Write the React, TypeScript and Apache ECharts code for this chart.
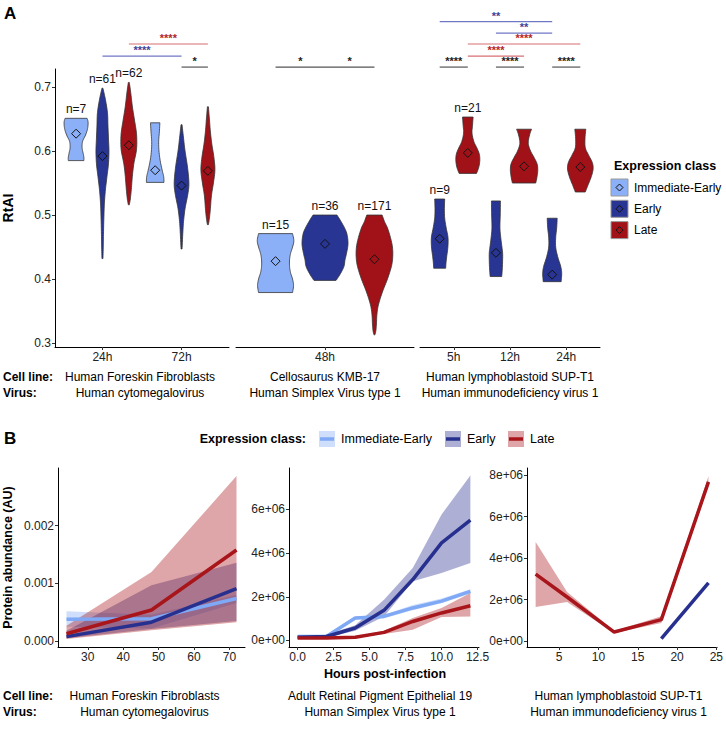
import React, { useEffect, useRef } from 'react';
import * as echarts from 'echarts';

const FONT = '"Liberation Sans", Arial, Helvetica, sans-serif';

// ---------- shared ----------
const CLASS_NAMES = ['Immediate-Early', 'Early', 'Late'];
const VIOLIN_COLORS = ['#8cb0f7', '#283593', '#a01218'];
const LINE_COLORS = ['#7fa8f5', '#27308f', '#a8151b'];
const RIBBON_COLORS = ['rgba(127,168,245,0.38)', 'rgba(39,48,143,0.38)', 'rgba(168,21,27,0.38)'];
const SIG_LINE_COLORS: Record<string, string> = { early: '#7077c6', late: '#d86f73', within: '#555555' };
const SIG_TEXT_COLORS: Record<string, string> = { early: '#3a449c', late: '#b3262b', within: '#222222' };

// ---------- Panel A data ----------
const A_Y_TICKS = [0.3, 0.4, 0.5, 0.6, 0.7];
const A_TIMES_HFF = ['24h', '72h'];
const A_TIMES_KMB = ['48h'];
const A_TIMES_SUPT1 = ['5h', '12h', '24h'];
const A_CELL_LINES = ['Human Foreskin Fibroblasts', 'Cellosaurus KMB-17', 'Human lymphoblastoid SUP-T1'];
const A_VIRUSES = ['Human cytomegalovirus', 'Human Simplex Virus type 1', 'Human immunodeficiency virus 1'];

// profile: [RtAI value, relative density (half width)]
const VIOLINS_HFF = [
  { time: '24h', cls: 0, n: 7, mean: 0.627, profile: [[0.651, 11], [0.645, 12], [0.635, 11.5], [0.625, 9.5], [0.615, 6.5], [0.605, 6], [0.597, 7], [0.59, 7.8], [0.585, 7.8]] },
  { time: '24h', cls: 1, n: 61, mean: 0.592, profile: [[0.698, 0.5], [0.68, 3], [0.66, 5], [0.64, 5.5], [0.62, 6], [0.6, 6.5], [0.58, 6], [0.56, 4.5], [0.54, 3], [0.52, 2], [0.5, 1.5], [0.47, 1], [0.45, 0.8], [0.432, 0.5]] },
  { time: '24h', cls: 2, n: 62, mean: 0.609, profile: [[0.707, 0.5], [0.69, 2], [0.67, 3.5], [0.65, 5.5], [0.63, 7.5], [0.615, 8], [0.6, 7.5], [0.58, 5], [0.56, 3.5], [0.54, 2.5], [0.525, 1.5], [0.516, 0.5]] },
  { time: '72h', cls: 0, n: 0, mean: 0.57, profile: [[0.644, 4.7], [0.63, 4.2], [0.615, 3.5], [0.6, 3.8], [0.585, 5], [0.57, 7], [0.56, 8.5], [0.551, 8.8]] },
  { time: '72h', cls: 1, n: 0, mean: 0.546, profile: [[0.641, 0.5], [0.62, 2], [0.6, 3.5], [0.58, 5.5], [0.56, 7], [0.545, 7.3], [0.53, 6], [0.51, 3.5], [0.49, 2], [0.47, 1.2], [0.447, 0.5]] },
  { time: '72h', cls: 2, n: 0, mean: 0.569, profile: [[0.669, 0.5], [0.65, 1.5], [0.63, 2.5], [0.61, 4], [0.59, 6], [0.57, 7], [0.55, 5.5], [0.53, 3.5], [0.51, 2.5], [0.495, 1.5], [0.485, 0.5]] },
];
const VIOLINS_KMB = [
  { time: '48h', cls: 0, n: 15, mean: 0.428, profile: [[0.471, 17], [0.46, 18.3], [0.45, 17], [0.44, 15], [0.43, 14], [0.42, 14], [0.41, 15], [0.4, 17], [0.39, 18], [0.379, 17]] },
  { time: '48h', cls: 1, n: 36, mean: 0.455, profile: [[0.5, 12], [0.49, 16], [0.48, 19.5], [0.47, 22], [0.455, 23], [0.44, 21.5], [0.43, 20], [0.42, 19], [0.41, 16], [0.4, 12], [0.398, 11]] },
  { time: '48h', cls: 2, n: 171, mean: 0.431, profile: [[0.5, 7.7], [0.49, 10], [0.48, 13], [0.465, 16], [0.45, 18], [0.435, 18.3], [0.42, 17], [0.4, 13], [0.38, 8], [0.36, 4], [0.345, 2.5], [0.33, 2], [0.32, 1.5], [0.313, 0.5]] },
];
const VIOLINS_SUPT1 = [
  { time: '5h', cls: 1, n: 9, mean: 0.463, profile: [[0.525, 5], [0.51, 4.7], [0.495, 5], [0.48, 6.5], [0.465, 8.3], [0.45, 8.2], [0.435, 7], [0.425, 6.3], [0.417, 6]] },
  { time: '5h', cls: 2, n: 21, mean: 0.597, profile: [[0.653, 5.3], [0.64, 4.7], [0.628, 4.2], [0.615, 6], [0.605, 9], [0.595, 11.5], [0.585, 12], [0.575, 11], [0.568, 9.5], [0.565, 8.7]] },
  { time: '12h', cls: 1, n: 0, mean: 0.441, profile: [[0.522, 4.5], [0.5, 4.3], [0.48, 4], [0.465, 4.8], [0.45, 6], [0.44, 6.7], [0.425, 6.6], [0.412, 6.2], [0.404, 5.8]] },
  { time: '12h', cls: 2, n: 0, mean: 0.576, profile: [[0.634, 7.5], [0.625, 5.5], [0.612, 4.2], [0.6, 6.5], [0.59, 10], [0.58, 13], [0.57, 13.7], [0.56, 13], [0.55, 11.7]] },
  { time: '24h', cls: 1, n: 0, mean: 0.407, profile: [[0.495, 5], [0.48, 4.5], [0.465, 3.5], [0.45, 3.5], [0.435, 5.5], [0.42, 8.5], [0.41, 9.5], [0.4, 9.2], [0.396, 9]] },
  { time: '24h', cls: 2, n: 0, mean: 0.575, profile: [[0.634, 5.5], [0.62, 4.7], [0.605, 5], [0.593, 8.5], [0.582, 12], [0.572, 12.8], [0.56, 11], [0.548, 8], [0.54, 6], [0.536, 5]] },
];

const SIG_HFF = [
  { a: ['24h', 2], b: ['72h', 2], level: 0.767, label: '****', kind: 'late' },
  { a: ['24h', 1], b: ['72h', 1], level: 0.748, label: '****', kind: 'early' },
  { a: ['72h', 1], b: ['72h', 2], level: 0.731, label: '*', kind: 'within' },
];
const SIG_KMB = [
  { a: ['48h', 0], b: ['48h', 1], level: 0.731, label: '*', kind: 'within' },
  { a: ['48h', 1], b: ['48h', 2], level: 0.731, label: '*', kind: 'within' },
];
const SIG_SUPT1 = [
  { a: ['5h', 1], b: ['24h', 1], level: 0.802, label: '**', kind: 'early' },
  { a: ['12h', 1], b: ['24h', 1], level: 0.784, label: '**', kind: 'early' },
  { a: ['5h', 2], b: ['24h', 2], level: 0.767, label: '****', kind: 'late' },
  { a: ['5h', 2], b: ['12h', 2], level: 0.748, label: '****', kind: 'late' },
  { a: ['5h', 1], b: ['5h', 2], level: 0.731, label: '****', kind: 'within' },
  { a: ['12h', 1], b: ['12h', 2], level: 0.731, label: '****', kind: 'within' },
  { a: ['24h', 1], b: ['24h', 2], level: 0.731, label: '****', kind: 'within' },
];

// ---------- Panel B data ----------
const B_CELL_LINES = ['Human Foreskin Fibroblasts', 'Adult Retinal Pigment Epithelial 19', 'Human lymphoblastoid SUP-T1'];
const B_VIRUSES = ['Human cytomegalovirus', 'Human Simplex Virus type 1', 'Human immunodeficiency virus 1'];

const B1_TIMES = [24, 48, 72];
const B1_X_TICKS = [30, 40, 50, 60, 70];
const B1_Y_TICKS = [0, 0.001, 0.002];
const B1_IE = [0.00038, 0.00039, 0.00074];
const B1_IE_LO = [0.00025, 0.00022, 0.00066];
const B1_IE_HI = [0.00052, 0.00046, 0.0008];
const B1_E = [0.00008, 0.00033, 0.00091];
const B1_E_LO = [0.00005, 0.00021, 0.00035];
const B1_E_HI = [0.00018, 0.00097, 0.00136];
const B1_L = [0.00013, 0.00054, 0.00158];
const B1_L_LO = [0.00004, 0.00019, 0.00033];
const B1_L_HI = [0.00027, 0.0012, 0.00286];

const B2_TIMES = [0, 2, 4, 6, 8, 10, 12];
const B2_X_TICKS = [0, 2.5, 5, 7.5, 10, 12.5];
const B2_Y_TICKS = [0, 2e6, 4e6, 6e6];
const B2_IE = [0.18e6, 0.18e6, 1.03e6, 1.1e6, 1.49e6, 1.8e6, 2.25e6];
const B2_IE_LO = [0.13e6, 0.13e6, 0.95e6, 1.02e6, 1.38e6, 1.7e6, 2.15e6];
const B2_IE_HI = [0.25e6, 0.25e6, 1.1e6, 1.18e6, 1.62e6, 1.92e6, 2.35e6];
const B2_E = [0.15e6, 0.18e6, 0.57e6, 1.38e6, 2.79e6, 4.47e6, 5.51e6];
const B2_E_LO = [0.1e6, 0.12e6, 0.45e6, 1.1e6, 2.71e6, 3.09e6, 3.55e6];
const B2_E_HI = [0.22e6, 0.26e6, 0.7e6, 1.87e6, 3.32e6, 5.77e6, 7.56e6];
const B2_L = [0.11e6, 0.11e6, 0.15e6, 0.37e6, 0.87e6, 1.26e6, 1.59e6];
const B2_L_LO = [0.08e6, 0.08e6, 0.12e6, 0.3e6, 0.49e6, 1.07e6, 1.1e6];
const B2_L_HI = [0.14e6, 0.14e6, 0.18e6, 0.45e6, 1.03e6, 1.49e6, 2.17e6];

const B3_TIMES = [2, 6, 12, 18, 24];
const B3_X_TICKS = [5, 10, 15, 20, 25];
const B3_Y_TICKS = [0, 2e6, 4e6, 6e6, 8e6];
const B3_L = [3.22e6, 2.12e6, 0.43e6, 1.03e6, 7.67e6];
const B3_L_LO = [1.64e6, 1.88e6, 0.38e6, 0.87e6, 7.5e6];
const B3_L_HI = [4.77e6, 2.36e6, 0.48e6, 1.19e6, 7.94e6];
const B3_E_TIMES = [18, 24];
const B3_E = [0.11e6, 2.8e6];

// ---------- helpers ----------
function catmull(pts: number[][], seg = 6): number[][] {
  if (pts.length < 3) return pts.slice();
  const out: number[][] = [];
  const f = (a: number, b: number, c: number, d: number, t: number) => {
    const t2 = t * t, t3 = t2 * t;
    return 0.5 * (2 * b + (-a + c) * t + (2 * a - 5 * b + 4 * c - d) * t2 + (-a + 3 * b - 3 * c + d) * t3);
  };
  for (let i = 0; i < pts.length - 1; i++) {
    const p0 = pts[Math.max(0, i - 1)], p1 = pts[i], p2 = pts[i + 1], p3 = pts[Math.min(pts.length - 1, i + 2)];
    for (let s = 0; s < seg; s++) {
      const t = s / seg;
      out.push([f(p0[0], p1[0], p2[0], p3[0], t), f(p0[1], p1[1], p2[1], p3[1], t)]);
    }
  }
  out.push(pts[pts.length - 1]);
  return out;
}

function dodge(classes: number[], cls: number) {
  const present = Array.from(new Set(classes)).sort();
  const n = present.length;
  const i = present.indexOf(cls);
  return (i - (n - 1) / 2) * (1 / n);
}

function xPosOf(times: string[], violins: any[], time: string, cls: number) {
  return times.indexOf(time) + 1 + dodge(violins.map((v) => v.cls), cls);
}

const txt = (color = '#222') => ({ fontSize: 12, color, fontFamily: FONT });

export default function App() {
  const ref = useRef<HTMLDivElement>(null);
  useEffect(() => {
    if (!ref.current) return;
    const chart = echarts.init(ref.current, undefined, { renderer: 'svg' });

    const facetsA = [
      { times: A_TIMES_HFF, violins: VIOLINS_HFF, sig: SIG_HFF },
      { times: A_TIMES_KMB, violins: VIOLINS_KMB, sig: SIG_KMB },
      { times: A_TIMES_SUPT1, violins: VIOLINS_SUPT1, sig: SIG_SUPT1 },
    ];
    const gridsA = [
      { left: 51, top: 69, width: 178, height: 278 },
      { left: 236, top: 69, width: 178, height: 278 },
      { left: 420, top: 69, width: 180, height: 278 },
    ];
    const gridsB = [
      { left: 52, top: 468, width: 193, height: 179 },
      { left: 289, top: 468, width: 190, height: 179 },
      { left: 527, top: 468, width: 191, height: 179 },
    ];

    const axisLine = { show: true, onZero: false, lineStyle: { color: '#000', width: 1 } };
    const xAxes: any[] = [];
    const yAxes: any[] = [];
    const series: any[] = [];

    facetsA.forEach((fc, i) => {
      const tickVals = fc.times.map((_, k) => k + 1);
      xAxes.push({
        gridIndex: i, type: 'value', min: 0.4, max: fc.times.length + 0.6,
        axisLine, splitLine: { show: false },
        axisTick: { show: true, length: 3, customValues: tickVals, lineStyle: { color: '#333' } },
        axisLabel: { customValues: tickVals, margin: 4, formatter: (v: number) => fc.times[Math.round(v) - 1] || '', ...txt() },
      });
      yAxes.push({
        gridIndex: i, type: 'value', min: 0.294, max: 0.728, show: i === 0,
        axisLine, splitLine: { show: false },
        name: i === 0 ? 'RtAI' : '', nameLocation: 'middle', nameGap: 40,
        nameTextStyle: { fontSize: 14, fontWeight: 'bold', color: '#000', fontFamily: FONT },
        axisTick: { show: true, length: 3, customValues: A_Y_TICKS, lineStyle: { color: '#333' } },
        axisLabel: { customValues: A_Y_TICKS, margin: 4, formatter: (v: number) => v.toFixed(1), ...txt() },
      });
      const vios = fc.violins;
      series.push({
        type: 'custom', xAxisIndex: i, yAxisIndex: i, clip: false,
        data: vios.map((v) => [xPosOf(fc.times, vios, v.time, v.cls), v.mean]),
        renderItem: (params: any, api: any) => {
          const vio = vios[params.dataIndex];
          const xp = api.value(0);
          const c = api.coord([xp, vio.mean]);
          const cx = c[0];
          const right = vio.profile.map(([val, w]: number[]) => [cx + w, api.coord([xp, val])[1]]);
          const rs = catmull(right);
          const ls = rs.map(([x, y]) => [2 * cx - x, y]).reverse();
          const children: any[] = [
            { type: 'polygon', shape: { points: rs.concat(ls) }, style: { fill: VIOLIN_COLORS[vio.cls], stroke: '#333', lineWidth: 0.8 } },
            { type: 'polygon', shape: { points: [[cx, c[1] - 4.5], [cx + 4.5, c[1]], [cx, c[1] + 4.5], [cx - 4.5, c[1]]] }, style: { fill: 'none', stroke: '#111', lineWidth: 1 } },
          ];
          if (vio.n) {
            const top = api.coord([xp, vio.profile[0][0]]);
            children.push({ type: 'text', x: cx, y: top[1] - 9, style: { text: 'n=' + vio.n, fontSize: 12, fill: '#111', fontFamily: FONT, align: 'center', verticalAlign: 'middle' } });
          }
          return { type: 'group', children };
        },
      });
      series.push({
        type: 'custom', xAxisIndex: i, yAxisIndex: i, clip: false,
        data: fc.sig.map((s) => {
          const x1 = xPosOf(fc.times, vios, s.a[0] as string, s.a[1] as number);
          const x2 = xPosOf(fc.times, vios, s.b[0] as string, s.b[1] as number);
          return [(x1 + x2) / 2, s.level, x1, x2];
        }),
        renderItem: (params: any, api: any) => {
          const s = fc.sig[params.dataIndex];
          const p1 = api.coord([api.value(2), api.value(1)]);
          const p2 = api.coord([api.value(3), api.value(1)]);
          return {
            type: 'group', children: [
              { type: 'line', shape: { x1: p1[0], y1: p1[1], x2: p2[0], y2: p2[1] }, style: { stroke: SIG_LINE_COLORS[s.kind], lineWidth: 1.2 } },
              { type: 'text', x: (p1[0] + p2[0]) / 2, y: p1[1] - 0.5, style: { text: s.label, fontSize: 11, fontWeight: 'bold', fill: SIG_TEXT_COLORS[s.kind], fontFamily: FONT, align: 'center', verticalAlign: 'bottom' } },
            ],
          };
        },
      });
    });

    const sci = (v: number) => (v === 0 ? '0e+00' : Math.round(v / 1e6) + 'e+06');
    const facetsB = [
      { xmin: 21.6, xmax: 74.4, ymin: -0.0001, ymax: 0.003, xt: B1_X_TICKS, yt: B1_Y_TICKS, xf: (v: number) => String(v), yf: (v: number) => v.toFixed(3),
        lines: [
          { cls: 0, t: B1_TIMES, v: B1_IE, lo: B1_IE_LO, hi: B1_IE_HI },
          { cls: 1, t: B1_TIMES, v: B1_E, lo: B1_E_LO, hi: B1_E_HI },
          { cls: 2, t: B1_TIMES, v: B1_L, lo: B1_L_LO, hi: B1_L_HI },
        ] },
      { xmin: -0.6, xmax: 12.6, ymin: -0.3e6, ymax: 7.9e6, xt: B2_X_TICKS, yt: B2_Y_TICKS, xf: (v: number) => v.toFixed(1), yf: sci,
        lines: [
          { cls: 0, t: B2_TIMES, v: B2_IE, lo: B2_IE_LO, hi: B2_IE_HI },
          { cls: 1, t: B2_TIMES, v: B2_E, lo: B2_E_LO, hi: B2_E_HI },
          { cls: 2, t: B2_TIMES, v: B2_L, lo: B2_L_LO, hi: B2_L_HI },
        ] },
      { xmin: 0.9, xmax: 25.1, ymin: -0.29e6, ymax: 8.34e6, xt: B3_X_TICKS, yt: B3_Y_TICKS, xf: (v: number) => String(v), yf: sci,
        lines: [
          { cls: 1, t: B3_E_TIMES, v: B3_E, lo: null, hi: null },
          { cls: 2, t: B3_TIMES, v: B3_L, lo: B3_L_LO, hi: B3_L_HI },
        ] },
    ];

    facetsB.forEach((fb, j) => {
      const gi = 3 + j;
      xAxes.push({
        gridIndex: gi, type: 'value', min: fb.xmin, max: fb.xmax, axisLine, splitLine: { show: false },
        axisTick: { show: true, length: 3, customValues: fb.xt, lineStyle: { color: '#333' } },
        axisLabel: { customValues: fb.xt, margin: 4, formatter: fb.xf, ...txt() },
      });
      yAxes.push({
        gridIndex: gi, type: 'value', min: fb.ymin, max: fb.ymax, axisLine, splitLine: { show: false },
        name: j === 0 ? 'Protein abundance (AU)' : '', nameLocation: 'middle', nameGap: 44,
        nameTextStyle: { fontSize: 12.5, fontWeight: 'bold', color: '#000', fontFamily: FONT },
        axisTick: { show: true, length: 3, customValues: fb.yt, lineStyle: { color: '#333' } },
        axisLabel: { customValues: fb.yt, margin: 4, formatter: fb.yf, ...txt() },
      });
      fb.lines.forEach((ln) => {
        if (!ln.lo || !ln.hi) return;
        const lo = ln.lo, hi = ln.hi, t = ln.t;
        series.push({
          type: 'custom', xAxisIndex: gi, yAxisIndex: gi, clip: true,
          data: t.map((tt, k) => [tt, lo[k], hi[k]]),
          renderItem: (params: any, api: any) => {
            if (params.dataIndex !== 0) return null;
            const up = t.map((tt, k) => api.coord([tt, hi[k]]));
            const dn = t.map((tt, k) => api.coord([tt, lo[k]])).reverse();
            return { type: 'polygon', shape: { points: up.concat(dn) }, style: { fill: RIBBON_COLORS[ln.cls], stroke: 'none' } };
          },
        });
      });
      fb.lines.forEach((ln) => {
        series.push({
          type: 'line', xAxisIndex: gi, yAxisIndex: gi, symbol: 'none', showSymbol: false,
          data: ln.t.map((tt, k) => [tt, ln.v[k]]),
          lineStyle: { color: LINE_COLORS[ln.cls], width: 3.5 },
          itemStyle: { color: LINE_COLORS[ln.cls] },
        });
      });
    });

    // graphics: titles, legends, annotation rows
    const g: any[] = [];
    const T = (x: number, y: number, text: string, opts: any = {}) =>
      g.push({ type: 'text', x, y, style: { text, fontSize: 12, fill: '#000', fontFamily: FONT, align: 'left', verticalAlign: 'middle', ...opts } });

    T(4, 13, 'A', { fontSize: 17, fontWeight: 'bold' });
    T(4, 438, 'B', { fontSize: 17, fontWeight: 'bold' });

    // Panel A annotation rows
    T(3, 377, 'Cell line:', { fontWeight: 'bold' });
    T(3, 393, 'Virus:', { fontWeight: 'bold' });
    gridsA.forEach((gr, i) => {
      const cx = gr.left + gr.width / 2;
      T(cx, 377, A_CELL_LINES[i], { align: 'center' });
      T(cx, 393, A_VIRUSES[i], { align: 'center' });
    });

    // Panel B annotation rows
    T(385, 674, 'Hours post-infection', { align: 'center', fontWeight: 'bold', fontSize: 12.5 });
    T(3, 696, 'Cell line:', { fontWeight: 'bold' });
    T(3, 712, 'Virus:', { fontWeight: 'bold' });
    gridsB.forEach((gr, i) => {
      const cx = gr.left + gr.width / 2 - 4;
      T(cx, 696, B_CELL_LINES[i], { align: 'center' });
      T(cx, 712, B_VIRUSES[i], { align: 'center' });
    });

    // Legend A
    T(614, 166, 'Expression class', { fontWeight: 'bold', fontSize: 12.5 });
    CLASS_NAMES.forEach((nm, k) => {
      const cy = 187.5 + k * 21.3;
      g.push({ type: 'rect', shape: { x: 611, y: cy - 8.5, width: 17, height: 17 }, style: { fill: VIOLIN_COLORS[k], stroke: '#999', lineWidth: 1 } });
      g.push({ type: 'polygon', shape: { points: [[619.5, cy - 3.5], [623, cy], [619.5, cy + 3.5], [616, cy]] }, style: { fill: 'none', stroke: '#111', lineWidth: 1 } });
      T(634, cy, nm, { fontSize: 12 });
    });

    // Legend B
    T(306, 439, 'Expression class:', { fontWeight: 'bold', fontSize: 12.5, align: 'right' });
    const lbx = [319, 445, 508];
    CLASS_NAMES.forEach((nm, k) => {
      const x = lbx[k];
      g.push({ type: 'rect', shape: { x, y: 431, width: 16, height: 16 }, style: { fill: RIBBON_COLORS[k], stroke: 'none' } });
      g.push({ type: 'line', shape: { x1: x + 1, y1: 439, x2: x + 15, y2: 439 }, style: { stroke: LINE_COLORS[k], lineWidth: 3.5 } });
      T(x + 22, 439, nm, { fontSize: 12.5 });
    });

    chart.setOption({
      animation: false,
      backgroundColor: '#fff',
      textStyle: { fontFamily: FONT },
      grid: [...gridsA, ...gridsB].map((gr) => ({ ...gr, containLabel: false })),
      xAxis: xAxes,
      yAxis: yAxes,
      series,
      graphic: { elements: g },
    });
    return () => chart.dispose();
  }, []);
  return <div ref={ref} style={{ position: 'fixed', left: 0, top: 0, width: 726, height: 729, background: '#fff' }} />;
}
